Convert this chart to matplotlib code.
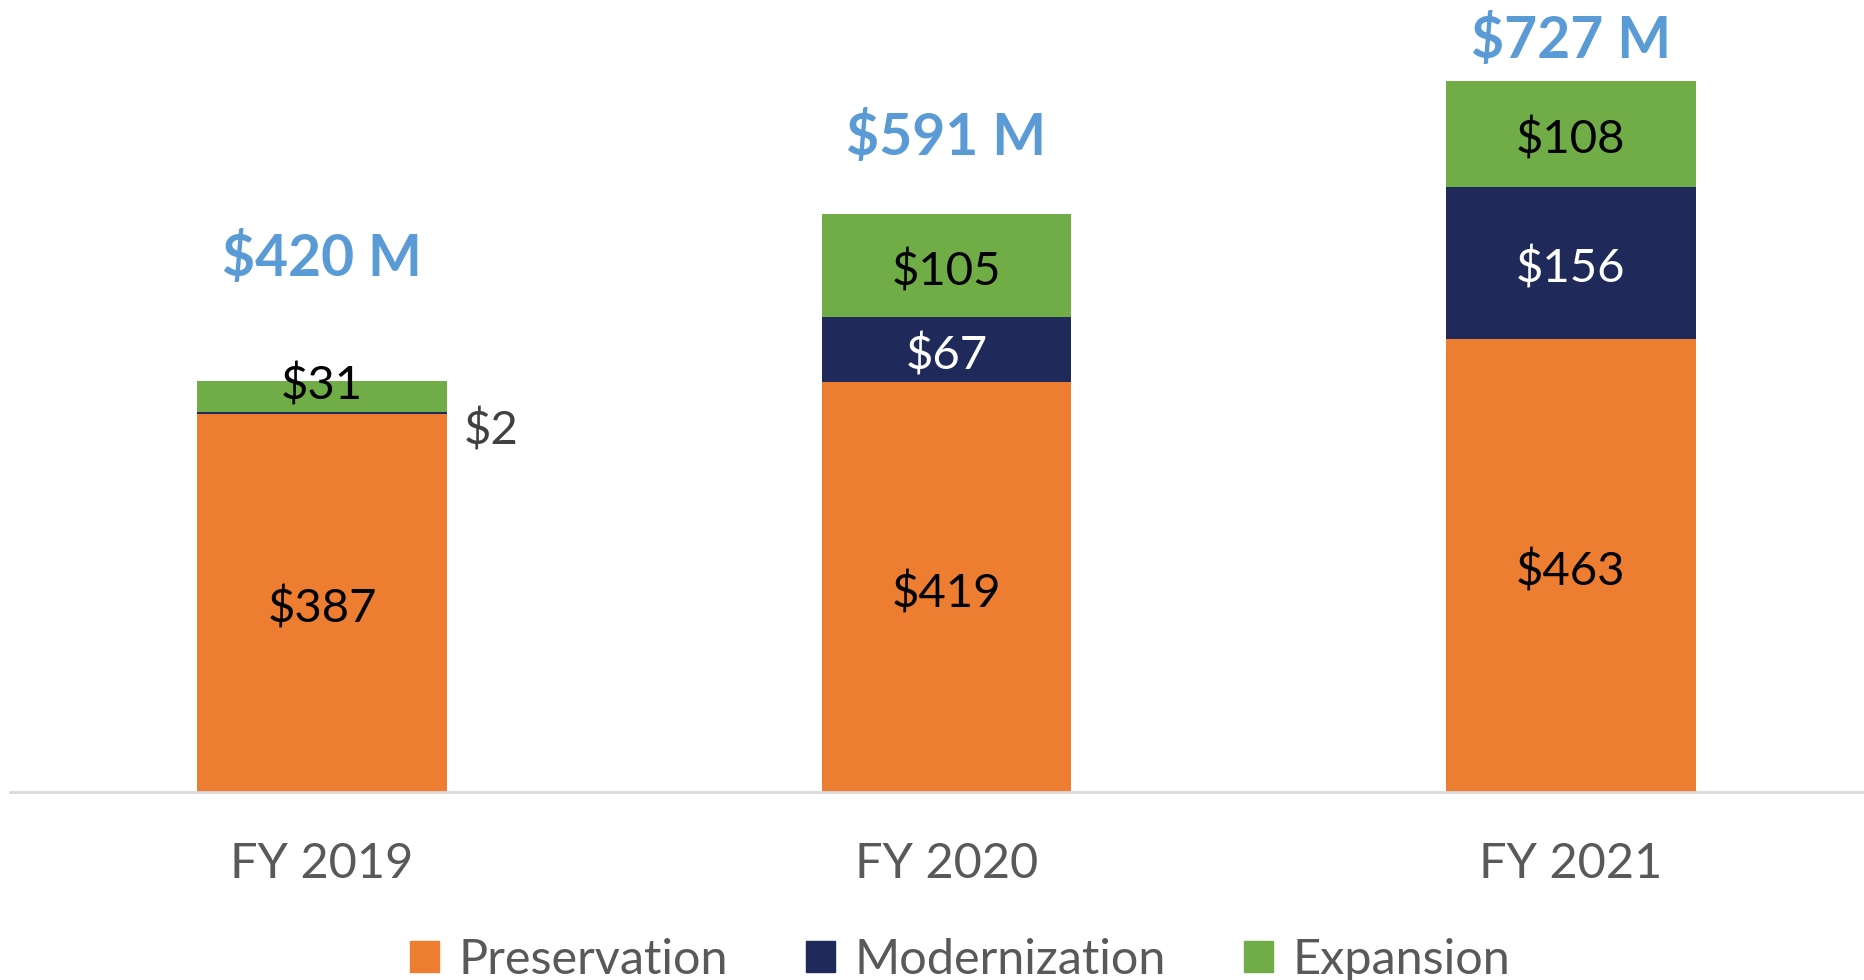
import numpy as np
import matplotlib.pyplot as plt
from matplotlib.patches import Patch

plt.rcParams['font.family'] = ['Lato', 'DejaVu Sans']

# data
years = ['FY 2019', 'FY 2020', 'FY 2021']
preservation = [387, 419, 463]
modernization = [2, 67, 156]
expansion = [31, 105, 108]
totals = ['$420 M', '$591 M', '$727 M']
total_y = [545, 669, 768]

c_pres = '#ED7D31'
c_mod = '#1F2A5A'
c_exp = '#70AD47'

fig = plt.figure(figsize=(18.65, 9.8), dpi=100)
ax = fig.add_axes([10 / 1865, 1 - 792 / 980, 1 - 10 / 1865, 792 / 980])

x = np.arange(len(years))
w = 0.4
pres = np.array(preservation)
mod = np.array(modernization)
exp_ = np.array(expansion)

ax.bar(x, pres, w, color=c_pres)
ax.bar(x, mod, w, bottom=pres, color=c_mod)
ax.bar(x, exp_, w, bottom=pres + mod, color=c_exp)

fs = 34
dy = -6  # nudge text down a bit
for i in range(len(x)):
    ax.text(x[i], pres[i] / 2 + dy, f'${pres[i]}', ha='center', va='center',
            fontsize=fs, color='black')
    if i == 0:
        # tiny segments: labels moved out
        ax.text(x[i] + w / 2 + 0.027, 370, f'${mod[i]}', ha='left',
                va='center', fontsize=fs, color='#404040')
        ax.text(x[i], pres[i] + mod[i] + exp_[i] - 4, f'${exp_[i]}',
                ha='center', va='center', fontsize=fs, color='black')
    else:
        ax.text(x[i], pres[i] + mod[i] / 2 + dy, f'${mod[i]}', ha='center',
                va='center', fontsize=fs, color='white')
        ax.text(x[i], pres[i] + mod[i] + exp_[i] / 2 + dy, f'${exp_[i]}',
                ha='center', va='center', fontsize=fs, color='black')
    ax.text(x[i], total_y[i], totals[i], ha='center', va='center',
            fontsize=41, fontweight='bold', color='#5B9BD5')

ax.set_xlim(-0.4996, 2.471)
ax.set_ylim(0, 810)
ax.set_xticks(x)
ax.set_xticklabels(years, fontsize=35, color='#595959')
ax.tick_params(axis='x', length=0, pad=36)
ax.set_yticks([])
for s in ['top', 'right', 'left']:
    ax.spines[s].set_visible(False)
ax.spines['bottom'].set_color('#D9D9D9')
ax.spines['bottom'].set_linewidth(2)

handles = [Patch(color=c_pres, label='Preservation'),
           Patch(color=c_mod, label='Modernization'),
           Patch(color=c_exp, label='Expansion')]
fig.legend(handles=handles, loc='center', bbox_to_anchor=(960 / 1865, 1 - 960 / 980),
           ncol=3, frameon=False, fontsize=35, labelcolor='#595959',
           handlelength=0.6, handleheight=0.6, handletextpad=0.4, columnspacing=1.6)

fig.savefig('out.png', dpi=100)
